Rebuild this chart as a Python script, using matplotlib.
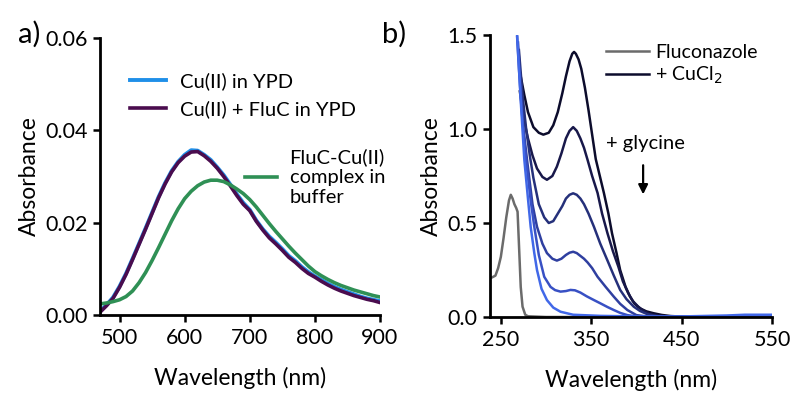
import matplotlib
matplotlib.use("Agg")
import matplotlib.pyplot as plt

plt.rcParams['font.family'] = ['Lato', 'DejaVu Sans']

# ---------- Panel a data ----------
wl_a = [470, 480, 490, 500, 510, 520, 530, 540, 550, 560, 570, 580, 590, 600, 610, 620,
        630, 640, 650, 660, 670, 680, 690, 700, 710, 720, 730, 740, 750, 760, 770, 780,
        790, 800, 810, 820, 830, 840, 850, 860, 870, 880, 890, 900]
cu_ypd = [0.0008, 0.0022, 0.0038, 0.0062, 0.0090, 0.0122, 0.0155, 0.0188, 0.0222, 0.0256,
          0.0286, 0.0312, 0.0332, 0.0347, 0.0357, 0.0356, 0.0347, 0.0336, 0.0320, 0.0303,
          0.0283, 0.0262, 0.0243, 0.0228, 0.0205, 0.0186, 0.0170, 0.0157, 0.0143, 0.0128,
          0.0117, 0.0104, 0.0093, 0.0084, 0.0076, 0.0068, 0.0061, 0.0055, 0.0050, 0.0045,
          0.0040, 0.0036, 0.0033, 0.0030]
cu_fluc_ypd = [0.0006, 0.0020, 0.0036, 0.0060, 0.0088, 0.0120, 0.0153, 0.0186, 0.0220, 0.0254,
               0.0284, 0.0310, 0.0330, 0.0344, 0.0353, 0.0354, 0.0345, 0.0333, 0.0318, 0.0300,
               0.0280, 0.0259, 0.0240, 0.0226, 0.0203, 0.0184, 0.0167, 0.0154, 0.0140, 0.0125,
               0.0114, 0.0101, 0.0090, 0.0082, 0.0073, 0.0065, 0.0058, 0.0052, 0.0047, 0.0042,
               0.0038, 0.0034, 0.0031, 0.0027]
fluc_buffer = [0.0024, 0.0026, 0.0029, 0.0033, 0.0040, 0.0052, 0.0070, 0.0092, 0.0118, 0.0146,
               0.0175, 0.0204, 0.0230, 0.0252, 0.0268, 0.0280, 0.0288, 0.0292, 0.0292, 0.0289,
               0.0282, 0.0273, 0.0263, 0.0250, 0.0234, 0.0216, 0.0198, 0.0181, 0.0165, 0.0149,
               0.0134, 0.0120, 0.0106, 0.0094, 0.0085, 0.0077, 0.0070, 0.0064, 0.0059, 0.0054,
               0.0050, 0.0046, 0.0042, 0.0039]

# ---------- Panel b data ----------
wl_fluconazole = [240, 244, 247, 250, 253, 256, 259, 261, 263, 265, 267, 268.5, 270, 272, 274,
                  277, 280, 300, 350, 450, 550]
fluconazole = [0.21, 0.22, 0.26, 0.32, 0.42, 0.53, 0.62, 0.65, 0.63, 0.60, 0.58, 0.56, 0.39,
               0.16, 0.055, 0.012, 0.004, 0.0, 0.0, 0.0, 0.0]

wl_g0 = [272, 276, 280, 286, 292, 297, 303, 308, 313, 318, 322, 326, 329, 331, 333, 336,
         339, 343, 347, 351, 355, 360, 364, 369, 373, 378, 382, 388, 393, 398, 404, 411,
         419, 428, 438, 460, 550]
cucl2_g0 = [1.28, 1.18, 1.09, 1.01, 0.98, 0.97, 0.98, 1.02, 1.09, 1.19, 1.28, 1.36, 1.40,
            1.41, 1.40, 1.37, 1.32, 1.22, 1.10, 0.97, 0.84, 0.74, 0.66, 0.55, 0.445, 0.34,
            0.25, 0.16, 0.108, 0.07, 0.046, 0.03, 0.02, 0.011, 0.005, 0.0, 0.0]

wl_g1 = [271, 276, 280, 285, 290, 296, 301, 307, 312, 317, 322, 326, 330, 334, 338, 342,
         346, 351, 357, 362, 368, 374, 380, 385, 391, 396, 402, 408, 415, 423, 432, 460, 550]
cucl2_g1 = [1.20, 1.04, 0.95, 0.86, 0.79, 0.745, 0.73, 0.75, 0.80, 0.87, 0.95, 0.99, 1.01,
            0.99, 0.95, 0.90, 0.835, 0.75, 0.66, 0.55, 0.445, 0.35, 0.268, 0.19, 0.126, 0.085,
            0.055, 0.032, 0.015, 0.008, 0.004, 0.0, 0.0]

wl_g2 = [270, 274, 278, 282, 286, 292, 298, 303, 308, 313, 318, 322, 326, 330, 334, 338,
         342, 347, 353, 360, 368, 375, 382, 389, 397, 404, 412, 420, 430, 550]
cucl2_g2 = [1.42, 1.18, 1.00, 0.86, 0.74, 0.60, 0.53, 0.50, 0.51, 0.55, 0.59, 0.63, 0.65,
            0.658, 0.65, 0.63, 0.60, 0.55, 0.48, 0.39, 0.30, 0.22, 0.144, 0.095, 0.055,
            0.032, 0.015, 0.007, 0.0, 0.0]

wl_g3 = [269, 272, 275, 279, 285, 290, 296, 301, 307, 312, 317, 322, 326, 330, 334, 338,
         342, 346, 351, 357, 366, 375, 382, 390, 400, 410, 420, 550]
cucl2_g3 = [1.46, 1.22, 1.00, 0.835, 0.60, 0.48, 0.39, 0.34, 0.31, 0.30, 0.31, 0.33, 0.342,
            0.347, 0.34, 0.325, 0.31, 0.29, 0.26, 0.214, 0.16, 0.108, 0.07, 0.037, 0.01,
            0.004, 0.0, 0.0]

wl_g4 = [268, 270, 273, 278, 283, 287, 292, 298, 305, 310, 316, 322, 327, 332, 338, 345,
         353, 360, 368, 375, 382, 390, 400, 410, 550]
cucl2_g4 = [1.49, 1.32, 1.10, 0.83, 0.62, 0.48, 0.33, 0.214, 0.16, 0.143, 0.135, 0.138,
            0.144, 0.142, 0.13, 0.11, 0.09, 0.073, 0.053, 0.037, 0.022, 0.01, 0.003, 0.0, 0.0]

wl_g5 = [268, 270, 272, 276, 280, 283, 287, 290, 295, 301, 308, 316, 330, 360, 400, 450,
         500, 520, 550]
cucl2_g5 = [1.50, 1.33, 1.15, 0.835, 0.63, 0.48, 0.34, 0.25, 0.15, 0.09, 0.05, 0.028, 0.012,
            0.006, 0.003, 0.003, 0.008, 0.012, 0.012]

glycine_series = [(wl_g0, cucl2_g0), (wl_g1, cucl2_g1), (wl_g2, cucl2_g2),
                  (wl_g3, cucl2_g3), (wl_g4, cucl2_g4), (wl_g5, cucl2_g5)]
glycine_colors = ['#0c0c2c', '#18184a', '#25307a', '#2f3fa0', '#3850c4', '#4168e8']

xticks_a = [500, 600, 700, 800, 900]
yticks_a = [0.00, 0.02, 0.04, 0.06]
xticks_b = [250, 350, 450, 550]
yticks_b = [0.0, 0.5, 1.0, 1.5]

fig = plt.figure(figsize=(8, 4), dpi=100)
ax_a = fig.add_axes([0.125, 0.2125, 0.35, 0.6925])
ax_b = fig.add_axes([0.6125, 0.2075, 0.3525, 0.705])

TICK_FS = 15.5
LABEL_FS = 16.5
for ax in (ax_a, ax_b):
    for s in ('top', 'right'):
        ax.spines[s].set_visible(False)
    for s in ('left', 'bottom'):
        ax.spines[s].set_linewidth(2.0)
        ax.spines[s].set_color('black')
    ax.tick_params(direction='out', length=5, width=1.8, labelsize=TICK_FS, colors='black',
                   pad=4)
    ax.set_ylabel('Absorbance', fontsize=LABEL_FS, labelpad=4)
    ax.set_xlabel('Wavelength (nm)', fontsize=LABEL_FS, labelpad=14)

# Panel a
ln_blue, = ax_a.plot(wl_a, cu_ypd, color='#1f8fe8', lw=2.8, label='Cu(II) in YPD')
ln_purp, = ax_a.plot(wl_a, cu_fluc_ypd, color='#4a0c4e', lw=2.6, label='Cu(II) + FluC in YPD')
ln_green, = ax_a.plot(wl_a, fluc_buffer, color='#2f9055', lw=2.6,
                      label='FluC-Cu(II)\ncomplex in\nbuffer')
ax_a.set_xlim(470, 900)
ax_a.set_ylim(0, 0.06)
ax_a.set_xticks(xticks_a)
ax_a.set_yticks(yticks_a)
ax_a.set_yticklabels([f'{v:.2f}' for v in yticks_a])

leg1 = ax_a.legend(handles=[ln_blue, ln_purp], loc='upper left', bbox_to_anchor=(0.08, 0.905),
                   frameon=False, fontsize=14.5, handlelength=1.75, handletextpad=0.7,
                   labelspacing=0.5, borderaxespad=0)
ax_a.add_artist(leg1)
ax_a.legend(handles=[ln_green], loc='upper left', bbox_to_anchor=(0.49, 0.63),
            frameon=False, fontsize=14.5, handlelength=1.6, handletextpad=0.6,
            borderaxespad=0)

# Panel b
ln_fluc, = ax_b.plot(wl_fluconazole, fluconazole, color='#6b6b6b', lw=1.8, label='Fluconazole')
lines_b = []
for (w, v), c in zip(glycine_series, glycine_colors):
    ln, = ax_b.plot(w, v, color=c, lw=1.8)
    lines_b.append(ln)
lines_b[0].set_label('+ CuCl$_2$')
ax_b.set_xlim(238, 550)
ax_b.set_ylim(0, 1.5)
ax_b.set_xticks(xticks_b)
ax_b.set_yticks(yticks_b)
ax_b.set_yticklabels([f'{v:.1f}' for v in yticks_b])
ax_b.legend(handles=[ln_fluc, lines_b[0]], loc='upper left', bbox_to_anchor=(0.385, 0.995),
            frameon=False, fontsize=14, handlelength=2.2, handletextpad=0.3,
            labelspacing=0.2, borderaxespad=0)
ax_b.text(0.41, 0.617, '+ glycine', transform=ax_b.transAxes, fontsize=14.5, ha='left',
          va='center')
ax_b.annotate('', xy=(0.543, 0.425), xytext=(0.543, 0.548), xycoords='axes fraction',
              arrowprops=dict(arrowstyle='-|>', color='black', lw=1.6, mutation_scale=14))

fig.text(0.022, 0.915, 'a)', fontsize=21, ha='left', va='center')
fig.text(0.478, 0.915, 'b)', fontsize=21, ha='left', va='center')

fig.savefig('out.png', dpi=100)
